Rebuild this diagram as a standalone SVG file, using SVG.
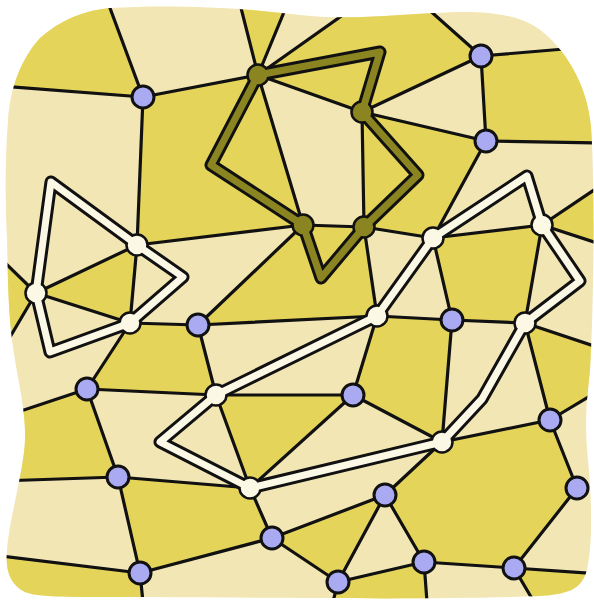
<svg xmlns="http://www.w3.org/2000/svg" width="594" height="602" viewBox="0 0 594 602">
<defs>
<clipPath id="shape">
<path id="outline" d="M110,8 C160,5 230,6 300,15 C340,20 380,16 434,13 C480,10 520,12 544,33 C570,55 588,90 591,127 C595,180 594,300 590,370 C587,400 584,420 588,460 C592,500 593,550 586,573 C580,590 567,594 540,596 C450,600 300,598 150,597 C80,597 40,598 25,592 C10,585 5,570 7,550 C9,520 24,470 25,440 C26,415 20,390 15,360 C8,320 8,280 7,240 C5,200 5,160 8,120 C10,90 20,60 40,38 C60,20 85,10 110,8 Z"/>
</clipPath>
<style>
.light{fill:#f2e6b4}
.dark{fill:#e5d45a;stroke:none}
.edge{stroke:#111;stroke-width:3.2;stroke-linecap:round;fill:none}
.rout{fill:none;stroke:#111;stroke-width:13;stroke-linejoin:round;stroke-linecap:round}
.oin{fill:none;stroke:#8b8521;stroke-width:7;stroke-linejoin:round}
.win{fill:none;stroke:#fcf8e6;stroke-width:7;stroke-linejoin:round}
.pn{fill:#aaaaf2;stroke:#111;stroke-width:3}
.on{fill:#8b8521;stroke:#111;stroke-width:2.5}
.wn{fill:#fcf8e6;stroke:#111;stroke-width:2.5}
</style>
</defs>
<g id="map" clip-path="url(#shape)">
<rect class="light" x="0" y="0" width="594" height="602"/>
<g id="regions">
<polygon class="dark" points="143,97 107,0 0,0 0,86"/>
<polygon class="dark" points="258,75 239,0 289,0"/>
<polygon class="dark" points="258,75 364,0 418,0 481,56 362,112"/>
<polygon class="dark" points="481,56 600,46 600,143 486,141"/>
<polygon class="dark" points="143,97 258,75 303,225 137,245"/>
<polygon class="dark" points="362,112 486,141 433,238 364,227"/>
<polygon class="dark" points="542,225 600,186 600,244"/>
<polygon class="dark" points="433,238 542,225 525,323 452,320"/>
<polygon class="dark" points="303,225 364,227 377,316 198,325"/>
<polygon class="dark" points="137,245 36,293 130,323"/>
<polygon class="dark" points="36,293 0,258 0,354"/>
<polygon class="dark" points="130,323 198,325 216,395 87,389"/>
<polygon class="dark" points="377,316 452,320 442,442 353,395"/>
<polygon class="dark" points="525,323 600,348 600,390 550,420"/>
<polygon class="dark" points="87,389 118,477 0,481 0,418"/>
<polygon class="dark" points="216,395 353,395 250,488"/>
<polygon class="dark" points="442,442 550,420 577,488 514,568 424,562 385,495"/>
<polygon class="dark" points="250,488 272,538 140,573 118,477"/>
<polygon class="dark" points="272,538 385,495 338,582"/>
<polygon class="dark" points="140,573 0,556 0,602 143,602"/>
<polygon class="dark" points="338,582 424,562 427,602 333,602"/>
<polygon class="dark" points="514,568 600,574 600,602 534,602"/>
</g>
<g id="connectors">
<line class="edge" x1="143" y1="97" x2="107" y2="0"/>
<line class="edge" x1="143" y1="97" x2="0" y2="86"/>
<line class="edge" x1="143" y1="97" x2="258" y2="75"/>
<line class="edge" x1="143" y1="97" x2="137" y2="245"/>
<line class="edge" x1="258" y1="75" x2="239" y2="0"/>
<line class="edge" x1="258" y1="75" x2="289" y2="0"/>
<line class="edge" x1="258" y1="75" x2="364" y2="0"/>
<line class="edge" x1="258" y1="75" x2="362" y2="112"/>
<line class="edge" x1="258" y1="75" x2="303" y2="225"/>
<line class="edge" x1="362" y1="112" x2="481" y2="56"/>
<line class="edge" x1="362" y1="112" x2="486" y2="141"/>
<line class="edge" x1="362" y1="112" x2="364" y2="227"/>
<line class="edge" x1="481" y1="56" x2="418" y2="0"/>
<line class="edge" x1="481" y1="56" x2="600" y2="46"/>
<line class="edge" x1="481" y1="56" x2="486" y2="141"/>
<line class="edge" x1="486" y1="141" x2="600" y2="143"/>
<line class="edge" x1="486" y1="141" x2="433" y2="238"/>
<line class="edge" x1="303" y1="225" x2="137" y2="245"/>
<line class="edge" x1="303" y1="225" x2="364" y2="227"/>
<line class="edge" x1="303" y1="225" x2="198" y2="325"/>
<line class="edge" x1="364" y1="227" x2="433" y2="238"/>
<line class="edge" x1="364" y1="227" x2="377" y2="316"/>
<line class="edge" x1="433" y1="238" x2="542" y2="225"/>
<line class="edge" x1="433" y1="238" x2="452" y2="320"/>
<line class="edge" x1="542" y1="225" x2="600" y2="186"/>
<line class="edge" x1="542" y1="225" x2="600" y2="244"/>
<line class="edge" x1="542" y1="225" x2="525" y2="323"/>
<line class="edge" x1="137" y1="245" x2="36" y2="293"/>
<line class="edge" x1="137" y1="245" x2="130" y2="323"/>
<line class="edge" x1="36" y1="293" x2="130" y2="323"/>
<line class="edge" x1="36" y1="293" x2="0" y2="258"/>
<line class="edge" x1="36" y1="293" x2="0" y2="354"/>
<line class="edge" x1="130" y1="323" x2="198" y2="325"/>
<line class="edge" x1="130" y1="323" x2="87" y2="389"/>
<line class="edge" x1="198" y1="325" x2="377" y2="316"/>
<line class="edge" x1="198" y1="325" x2="216" y2="395"/>
<line class="edge" x1="377" y1="316" x2="452" y2="320"/>
<line class="edge" x1="377" y1="316" x2="353" y2="395"/>
<line class="edge" x1="452" y1="320" x2="525" y2="323"/>
<line class="edge" x1="452" y1="320" x2="442" y2="442"/>
<line class="edge" x1="525" y1="323" x2="600" y2="348"/>
<line class="edge" x1="525" y1="323" x2="550" y2="420"/>
<line class="edge" x1="550" y1="420" x2="600" y2="390"/>
<line class="edge" x1="550" y1="420" x2="442" y2="442"/>
<line class="edge" x1="550" y1="420" x2="577" y2="488"/>
<line class="edge" x1="577" y1="488" x2="514" y2="568"/>
<line class="edge" x1="87" y1="389" x2="0" y2="418"/>
<line class="edge" x1="87" y1="389" x2="216" y2="395"/>
<line class="edge" x1="87" y1="389" x2="118" y2="477"/>
<line class="edge" x1="216" y1="395" x2="353" y2="395"/>
<line class="edge" x1="216" y1="395" x2="250" y2="488"/>
<line class="edge" x1="353" y1="395" x2="250" y2="488"/>
<line class="edge" x1="353" y1="395" x2="442" y2="442"/>
<line class="edge" x1="442" y1="442" x2="385" y2="495"/>
<line class="edge" x1="118" y1="477" x2="0" y2="481"/>
<line class="edge" x1="118" y1="477" x2="250" y2="488"/>
<line class="edge" x1="118" y1="477" x2="140" y2="573"/>
<line class="edge" x1="250" y1="488" x2="272" y2="538"/>
<line class="edge" x1="385" y1="495" x2="272" y2="538"/>
<line class="edge" x1="385" y1="495" x2="338" y2="582"/>
<line class="edge" x1="385" y1="495" x2="424" y2="562"/>
<line class="edge" x1="272" y1="538" x2="338" y2="582"/>
<line class="edge" x1="272" y1="538" x2="140" y2="573"/>
<line class="edge" x1="140" y1="573" x2="0" y2="556"/>
<line class="edge" x1="140" y1="573" x2="143" y2="602"/>
<line class="edge" x1="338" y1="582" x2="424" y2="562"/>
<line class="edge" x1="338" y1="582" x2="333" y2="602"/>
<line class="edge" x1="424" y1="562" x2="514" y2="568"/>
<line class="edge" x1="424" y1="562" x2="427" y2="602"/>
<line class="edge" x1="514" y1="568" x2="600" y2="574"/>
<line class="edge" x1="514" y1="568" x2="534" y2="602"/>
</g>
</g>
<g id="route-outlines">
<polygon class="rout" points="258,75 380,52 362,112 418,175 364,227 321,278 303,225 211,165"/>
<polygon class="rout" points="51,182 137,245 183,277 130,323 50,352 36,293"/>
<polygon class="rout" points="160,442 216,395 377,316 433,238 527,176 542,225 580,281 525,323 482,399 442,442 250,488"/>
</g>
<g id="O1"><circle class="on" cx="258" cy="75" r="10.5"/></g>
<g id="O2"><circle class="on" cx="362" cy="112" r="10.5"/></g>
<g id="O3"><circle class="on" cx="303" cy="225" r="10.5"/></g>
<g id="O4"><circle class="on" cx="364" cy="227" r="10.5"/></g>
<g id="W1"><circle class="wn" cx="137" cy="245" r="10.5"/></g>
<g id="W2"><circle class="wn" cx="36" cy="293" r="10.5"/></g>
<g id="W3"><circle class="wn" cx="130" cy="323" r="10.5"/></g>
<g id="W4"><circle class="wn" cx="433" cy="238" r="10.5"/></g>
<g id="W5"><circle class="wn" cx="542" cy="225" r="10.5"/></g>
<g id="W6"><circle class="wn" cx="377" cy="316" r="10.5"/></g>
<g id="W7"><circle class="wn" cx="525" cy="323" r="10.5"/></g>
<g id="W8"><circle class="wn" cx="216" cy="395" r="10.5"/></g>
<g id="W9"><circle class="wn" cx="442" cy="442" r="10.5"/></g>
<g id="W10"><circle class="wn" cx="250" cy="488" r="10.5"/></g>
<g id="route-fills">
<polygon class="oin" points="258,75 380,52 362,112 418,175 364,227 321,278 303,225 211,165"/>
<polygon class="win" points="51,182 137,245 183,277 130,323 50,352 36,293"/>
<polygon class="win" points="160,442 216,395 377,316 433,238 527,176 542,225 580,281 525,323 482,399 442,442 250,488"/>
</g>
<g id="P1"><circle class="pn" cx="143" cy="97" r="11"/></g>
<g id="P2"><circle class="pn" cx="481" cy="56" r="11"/></g>
<g id="P3"><circle class="pn" cx="486" cy="141" r="11"/></g>
<g id="P4"><circle class="pn" cx="198" cy="325" r="11"/></g>
<g id="P5"><circle class="pn" cx="452" cy="320" r="11"/></g>
<g id="P6"><circle class="pn" cx="87" cy="389" r="11"/></g>
<g id="P7"><circle class="pn" cx="353" cy="395" r="11"/></g>
<g id="P8"><circle class="pn" cx="550" cy="420" r="11"/></g>
<g id="P9"><circle class="pn" cx="118" cy="477" r="11"/></g>
<g id="P10"><circle class="pn" cx="385" cy="495" r="11"/></g>
<g id="P11"><circle class="pn" cx="577" cy="488" r="11"/></g>
<g id="P12"><circle class="pn" cx="272" cy="538" r="11"/></g>
<g id="P13"><circle class="pn" cx="140" cy="573" r="11"/></g>
<g id="P14"><circle class="pn" cx="338" cy="582" r="11"/></g>
<g id="P15"><circle class="pn" cx="424" cy="562" r="11"/></g>
<g id="P16"><circle class="pn" cx="514" cy="568" r="11"/></g>
</svg>
